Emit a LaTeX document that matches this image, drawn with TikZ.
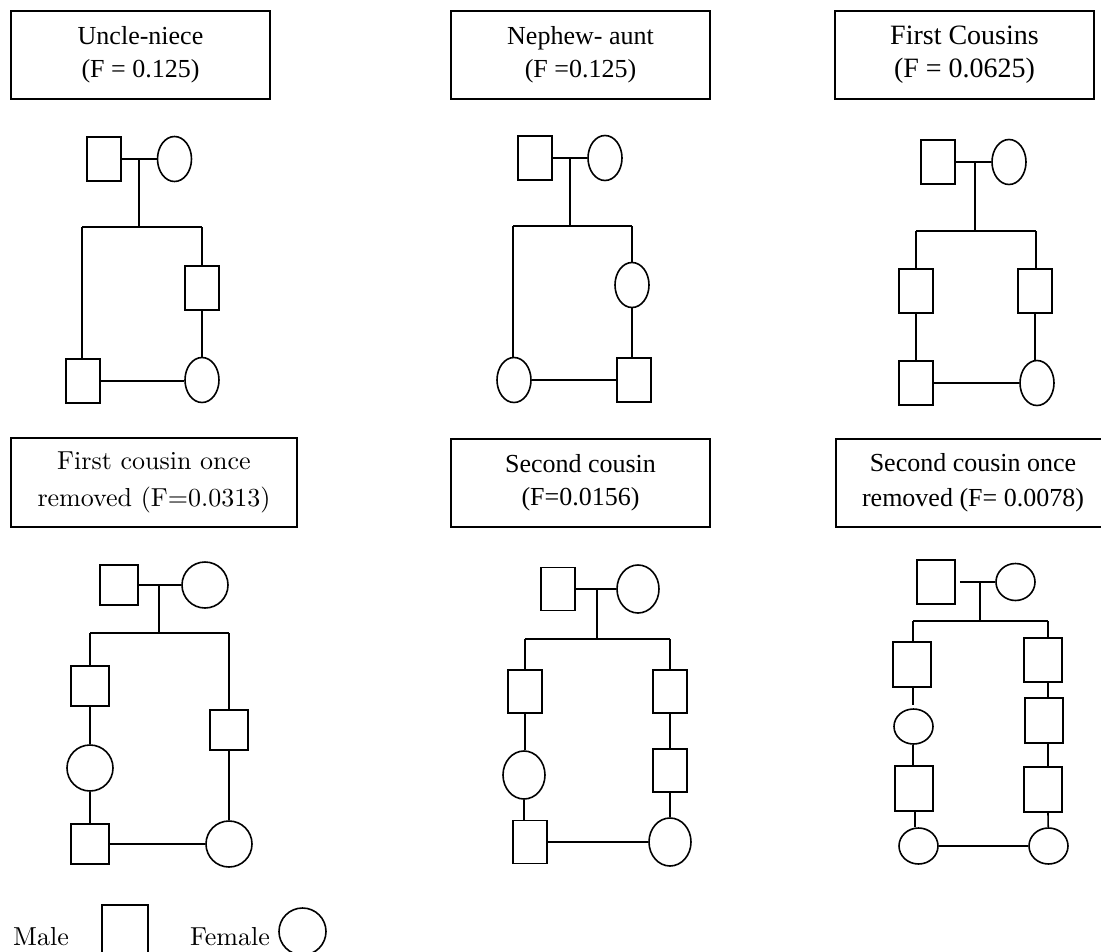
\documentclass[tikz,border=0pt]{standalone}
\usepackage{fontspec}
\usepackage{tikz}
\usetikzlibrary{shapes.geometric,calc}
\newfontfamily\timesfont{Liberation Serif}
\newfontfamily\garamond{lmroman10-regular.otf}
\tikzset{
    every node/.style={font=\timesfont\fontsize{26}{33}\selectfont},
    male/.style={draw, rectangle, inner sep=0pt, minimum width=34pt, minimum height=44pt},
    female/.style={draw, ellipse, inner sep=0pt, minimum width=34pt, minimum height=45pt},
    bigmale/.style={male, minimum width=38pt, minimum height=40pt},
    roundfemale/.style={draw, circle, inner sep=0pt, minimum size=46pt},
    titlebox/.style={draw, rectangle, align=center, inner sep=0pt, minimum width=259pt, minimum height=88pt},
    garafont/.style={font=\garamond\fontsize{26}{37}\selectfont}
}

\begin{document}
\begin{tikzpicture}[x=1pt, y=-1pt, line width=1.6pt]
            \useasboundingbox (0,0) rectangle (1101,951);
            \clip (0,0) rectangle (1101,951);

            % uncle-niece
            \node[titlebox] (t1) at (140.5,55) {Uncle-niece\\(F = 0.125)};
            \node[male] (a1) at (104,159) {};
            \node[female] (b1) at (174.5,159) {};
            \coordinate (m1) at ($(a1.east)!0.5!(b1.west)$);
            \coordinate (l1) at (82,227);
            \coordinate (r1) at (202,227);
            \node[male] (c1) at (202,288) {};
            \node[female] (d1) at (202,380) {};
            \node[male] (e1) at (83,381) {};
            \draw (a1) -- (b1);
            \draw (m1) -- (m1 |- l1);
            \draw (l1) -- (r1);
            \draw (r1) -- (c1) -- (d1);
            \draw (l1) -- (l1 |- e1.north);
            \draw (e1) -- (e1 -| d1.west);

            % nephew-aunt
            \node[titlebox] (t2) at (580.5,55) {Nephew- aunt\\(F =0.125)};
            \node[male] (a2) at (535,158) {};
            \node[female] (b2) at (605,158) {};
            \coordinate (m2) at ($(a2.east)!0.5!(b2.west)$);
            \coordinate (l2) at (513,226);
            \coordinate (r2) at (632,226);
            \node[female] (c2) at (632,285) {};
            \node[male] (d2) at (634,380) {};
            \node[female] (e2) at (514,380) {};
            \draw (a2) -- (b2);
            \draw (m2) -- (m2 |- l2);
            \draw (l2) -- (r2);
            \draw (r2) -- (c2);
            \draw (c2.south) -- (c2.south |- d2.north);
            \draw (l2) -- (l2 |- e2.north);
            \draw (e2) -- (d2);

            % first cousins
            \node[titlebox, font=\timesfont\fontsize{28}{33}\selectfont] (t3) at (964.5,55) {First Cousins\\(F = 0.0625)};
            \node[male] (a3) at (938,162) {};
            \node[female] (b3) at (1009,162) {};
            \coordinate (m3) at (975,162);
            \coordinate (l3) at (916,231);
            \coordinate (r3) at (1036,231);
            \node[male] (c3) at (916,291) {};
            \node[male] (e3) at (916,383) {};
            \node[male] (f3) at (1035,291) {};
            \node[female] (d3) at (1037,383) {};
            \draw (a3) -- (b3);
            \draw (m3) -- (m3 |- l3);
            \draw (l3) -- (r3);
            \draw (l3) -- (c3) -- (e3) -- (d3);
            \draw (r3) -- (r3 |- f3.north);
            \draw (f3.south) -- (f3.south |- d3.north);

            % first cousin once removed
            \node[titlebox, garafont, minimum width=286pt, minimum height=89pt] (t4) at (154,482.5) {First cousin once\\removed (F=0.0313)};
            \node[bigmale] (a4) at (119,585) {};
            \node[roundfemale] (b4) at (205,585) {};
            \coordinate (m4) at (159,585);
            \coordinate (l4) at (90,633);
            \coordinate (r4) at (229,633);
            \node[bigmale] (c4) at (90,686) {};
            \node[roundfemale] (d4) at (90,768) {};
            \node[bigmale] (e4) at (90,844) {};
            \node[bigmale] (f4) at (229,730) {};
            \node[roundfemale] (g4) at (229,844) {};
            \draw (a4) -- (b4);
            \draw (m4) -- (m4 |- l4);
            \draw (l4) -- (r4);
            \draw (l4) -- (c4) -- (d4) -- (e4) -- (g4);
            \draw (r4) -- (f4) -- (g4);

            % second cousin
            \node[titlebox] (t5) at (580.5,483) {Second cousin\\(F=0.0156)};
            \node[male, minimum height=43pt] (a5) at (558,589) {};
            \node[female, minimum width=42pt, minimum height=48pt] (b5) at (638,589) {};
            \coordinate (m5) at (597,589);
            \coordinate (l5) at (525,639);
            \coordinate (r5) at (670,639);
            \node[male, minimum height=43pt] (c5) at (525,691.5) {};
            \node[female, minimum width=42pt, minimum height=48pt] (d5) at (524,775) {};
            \node[male, minimum height=43pt] (e5) at (530,842) {};
            \node[male, minimum height=43pt] (f5) at (670,691.5) {};
            \node[male, minimum height=43pt] (g5) at (670,770.5) {};
            \node[female, minimum width=42pt, minimum height=48pt] (h5) at (670,842) {};
            \draw (a5) -- (b5);
            \draw (m5) -- (m5 |- l5);
            \draw (l5) -- (r5);
            \draw (l5) -- (c5);
            \draw (c5.south) -- (c5.south |- d5.north);
            \draw (d5.south) -- (d5.south |- e5.north);
            \draw (e5) -- (h5);
            \draw (r5) -- (f5) -- (g5) -- (h5);

            % second cousin once removed
            \node[titlebox, minimum width=274pt, font=\timesfont\fontsize{26}{35}\selectfont] (t6) at (973,483) {Second cousin once\\removed (F= 0.0078)};
            \node[male, minimum width=38pt] (a6) at (936,582) {};
            \node[female, minimum width=39pt, minimum height=37pt] (b6) at (1015.5,582) {};
            \coordinate (m6) at (980,582);
            \coordinate (l6) at (913,621);
            \coordinate (r6) at (1048,621);
            \node[male, minimum width=38pt, minimum height=45pt] (c6) at (912,664.5) {};
            \node[female, minimum width=39pt, minimum height=35pt] (d6) at (913.5,726.5) {};
            \node[male, minimum width=38pt, minimum height=45pt] (e6) at (914,788.5) {};
            \node[female, minimum width=39pt, minimum height=36pt] (f6) at (918.5,846) {};
            \node[male, minimum width=38pt] (g6) at (1043,660) {};
            \node[male, minimum width=38pt, minimum height=45pt] (h6) at (1044,720.5) {};
            \node[male, minimum width=38pt, minimum height=45pt] (i6) at (1043,789.5) {};
            \node[female, minimum width=39pt, minimum height=36pt] (j6) at (1048.5,846) {};
            \draw ([xshift=4pt]a6.east) -- (b6);
            \draw (m6) -- (m6 |- l6);
            \draw (l6) -- (r6);
            \draw (l6) -- (l6 |- c6.north);
            \draw (c6.south -| l6) -- ([yshift=3pt]d6.north -| l6);
            \draw (d6.south -| l6) -- (e6.north -| l6);
            \draw (e6.south -| 915,0) -- (f6.north -| 915,0);
            \draw (f6) -- (j6);
            \draw (r6) -- (r6 |- g6.north);
            \draw (g6.south -| r6) -- (h6.north -| r6);
            \draw (h6.south -| r6) -- (i6.north -| r6);
            \draw (i6.south -| r6) -- (j6);

            % legend
            \node[garafont, anchor=base] (lm) at (41,945) {Male};
            \node[male, minimum width=46pt, minimum height=54pt] (ls) at (125,932) {};
            \node[garafont, anchor=base] (lf) at (230,945) {Female};
            \node[roundfemale, minimum size=47pt] (lc) at (302.5,931.5) {};
        \end{tikzpicture}
\end{document}
